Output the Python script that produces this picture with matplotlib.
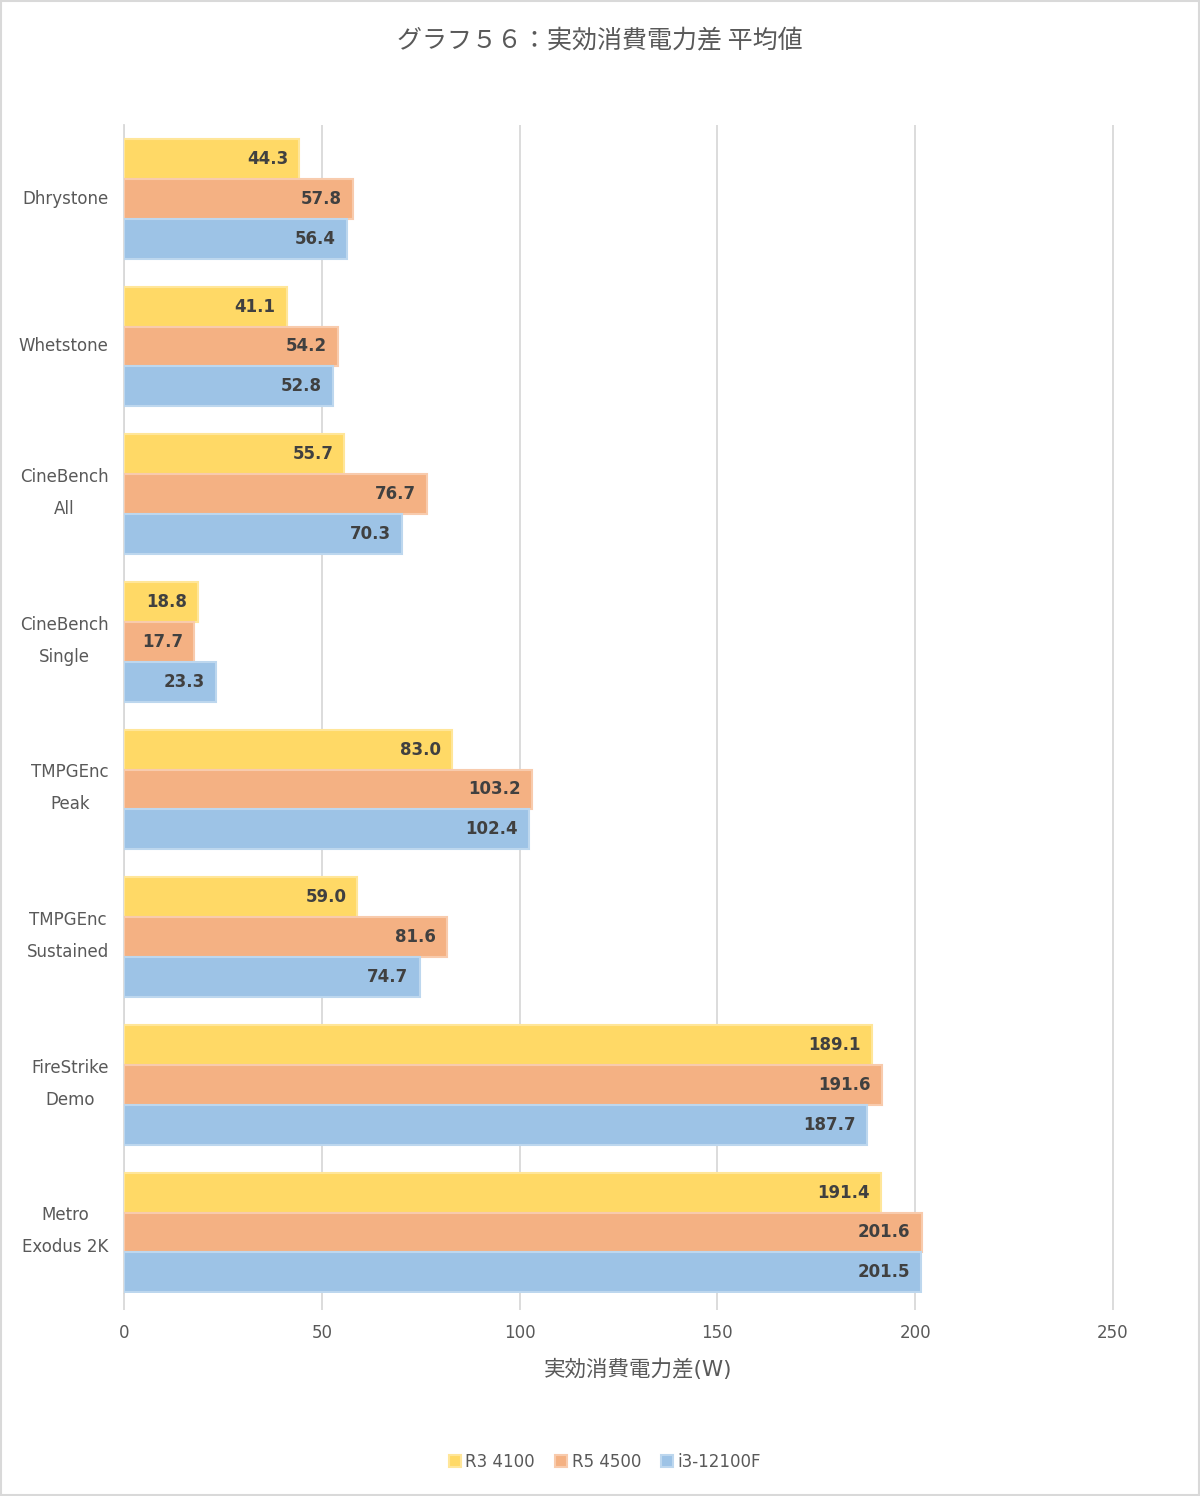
import matplotlib.pyplot as plt
import matplotlib.transforms as mtransforms
import numpy as np

plt.rcParams['font.family'] = ['DejaVu Sans', 'Noto Sans CJK JP']

categories = ['Dhrystone', 'Whetstone', 'CineBench\nAll', 'CineBench\nSingle',
              'TMPGEnc\nPeak', 'TMPGEnc\nSustained', 'FireStrike\nDemo', 'Metro\nExodus 2K']
series_names = ['R3 4100', 'R5 4500', 'i3-12100F']
r3_4100 = [44.3, 41.1, 55.7, 18.8, 83.0, 59.0, 189.1, 191.4]
r5_4500 = [57.8, 54.2, 76.7, 17.7, 103.2, 81.6, 191.6, 201.6]
i3_12100f = [56.4, 52.8, 70.3, 23.3, 102.4, 74.7, 187.7, 201.5]
colors = ['#FFD966', '#F4B183', '#9DC3E6']
edges = ['#FFE699', '#F8CBAD', '#BDD7EE']

fig = plt.figure(figsize=(12, 14.96), dpi=100, facecolor='white')
# x axis 0..250 spans pixels 124..1113; leave a hair past 250 so that gridline shows
ax = fig.add_axes([124 / 1200, 1 - 1293 / 1496, (1113 - 124) * 251 / 250 / 1200, (1293 - 125) / 1496])

y = np.arange(len(categories))
h = 0.27
for k, (vals, c, ec, name) in enumerate(zip([r3_4100, r5_4500, i3_12100f], colors, edges, series_names)):
    pos = y + (k - 1) * h
    bars = ax.barh(pos, vals, height=h, color=c, edgecolor=ec, linewidth=1.5, label=name, zorder=3)
    for b, v in zip(bars, vals):
        ax.text(v - 2.8, b.get_y() + h / 2, f'{v:.1f}', ha='right', va='center',
                fontsize=12, fontweight='bold', color='#404040', zorder=4)

ax.set_xlim(0, 251)
ax.set_ylim(7.41, -0.5)
ax.set_xticks([0, 50, 100, 150, 200, 250])
ax.set_yticks(y)
ax.set_yticklabels(categories, linespacing=2.0, multialignment='center')
ax.grid(axis='x', color='#d9d9d9', linewidth=1.3, zorder=0)
for s in ['top', 'right', 'bottom']:
    ax.spines[s].set_visible(False)
ax.spines['left'].set_color('#d9d9d9')
ax.spines['left'].set_linewidth(1.3)
ax.tick_params(axis='y', length=0, pad=11, labelsize=12, labelcolor='#595959')
ax.tick_params(axis='x', length=12, color='#d9d9d9', width=1.3, pad=10, labelsize=12, labelcolor='#595959')

# nudge the category labels up a little (two-line ones sit low otherwise)
for lbl, cat in zip(ax.get_yticklabels(), categories):
    dy = 10 if '\n' in cat else 2
    lbl.set_transform(lbl.get_transform() + mtransforms.ScaledTranslation(0, dy / 100, fig.dpi_scale_trans))

ax.set_xlabel('実効消費電力差(W)', fontsize=15.5, color='#595959')
ax.xaxis.set_label_coords(0.518, -0.056)
fig.suptitle('グラフ５６：実効消費電力差 平均値', fontsize=18, color='#595959', y=0.981,
             family=['Noto Sans CJK JP', 'DejaVu Sans'])

leg = fig.legend(loc='center', bbox_to_anchor=(0.504, 0.023), ncol=3, frameon=False,
                 fontsize=12, handlelength=0.75, handleheight=0.75, handletextpad=0.25,
                 columnspacing=1.2, labelcolor='#595959')

fig.patches.append(plt.Rectangle((0.001, 0.001), 0.998, 0.998, transform=fig.transFigure,
                                 fill=False, edgecolor='#d9d9d9', linewidth=1.5))

plt.savefig('out.png', dpi=100, facecolor='white')
